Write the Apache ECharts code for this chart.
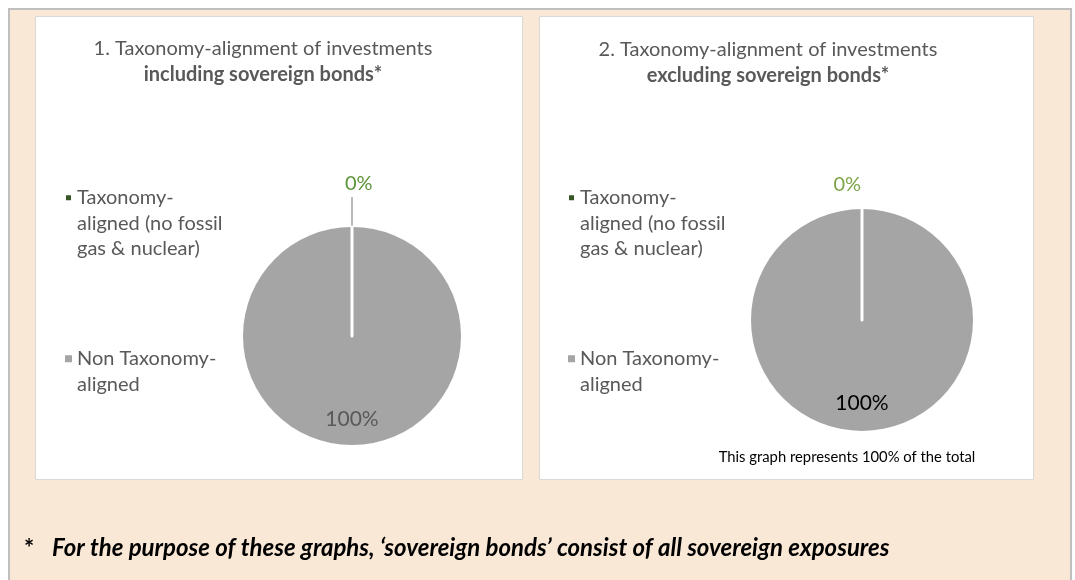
<!DOCTYPE html>
<html>
<head>
<meta charset="utf-8">
<title>Taxonomy-alignment of investments</title>
<script src="https://cdn.jsdelivr.net/npm/echarts@6/dist/echarts.min.js"></script>
<style>
html, body { margin: 0; padding: 0; background: #fff; }
#chart { width: 1075px; height: 580px; }
</style>
</head>
<body>
<div id="chart"></div>
<script>
// categories and values
var categories = ['Taxonomy-aligned (no fossil gas & nuclear)', 'Non Taxonomy-aligned'];
var legendText = ['Taxonomy-\naligned (no fossil\ngas & nuclear)', 'Non Taxonomy-\naligned'];
var inclSovereign = [0, 100];
var exclSovereign = [0, 100];
var colors = ['#375623', '#A5A5A5'];

var title1 = ['1. Taxonomy-alignment of investments', 'including sovereign bonds*'];
var title2 = ['2. Taxonomy-alignment of investments', 'excluding sovereign bonds*'];
var noteText = 'This graph represents 100% of the total';
var footText = 'For the purpose of these graphs, \u2018sovereign bonds\u2019 consist of all sovereign exposures';

var FONT = 'Lato';

var myChart = echarts.init(document.getElementById('chart'));

// big slice first so the white edge of the 0% slice is drawn on top
function pieData(values, zeroLabel, bigLabel, lineLen, showLine){
	var out = [];
	for (var i = values.length - 1; i >= 0; i--) {
		var item = {
			name: categories[i],
			value: values[i],
			itemStyle: { color: colors[i] }
		};
		if (i === 0) {
			item.itemStyle.borderColor = '#fff';
			item.itemStyle.borderWidth = 3;
			item.label = zeroLabel;
			item.labelLine = { show: showLine, length: lineLen, length2: 0,
				lineStyle: { color: '#A6A6A6', width: 1.5 } };
		} else {
			item.label = bigLabel;
			item.labelLine = { show: false };
		}
		out.push(item);
	}
	return out;
}

function legendFor(left){
	return {
		orient: 'vertical',
		left: left,
		top: 134,
		padding: 0,
		itemWidth: 7,
		itemHeight: 7,
		itemGap: 59,
		icon: 'rect',
		selectedMode: false,
		textStyle: { fontFamily: FONT, fontSize: 20, color: '#595959', lineHeight: 25.5 },
		// empty lines above so the marker sits next to the first line
		formatter: function(name){
			var idx = categories.indexOf(name);
			var txt = legendText[idx];
			var n = txt.split('\n').length;
			return new Array(n).join('\n') + txt;
		},
		data: categories
	};
}

option = {
	backgroundColor: '#fff',
	animation: false,
	graphic: [
		{ type: 'rect', z: -10, shape: { x: 9, y: 9, width: 1062, height: 580 },
		  style: { fill: '#FAE8D7', stroke: '#BFBFBF', lineWidth: 2 } },
		{ type: 'rect', z: -9, shape: { x: 35.5, y: 16.5, width: 487, height: 463 },
		  style: { fill: '#fff', stroke: '#D9D9D9', lineWidth: 1 } },
		{ type: 'rect', z: -9, shape: { x: 539.5, y: 16.5, width: 494, height: 463 },
		  style: { fill: '#fff', stroke: '#D9D9D9', lineWidth: 1 } },
		{ type: 'text', x: 263, y: 49, style: { text: title1[0], fontFamily: FONT, fontSize: 20,
			fill: '#595959', align: 'center', verticalAlign: 'middle' } },
		{ type: 'text', x: 263, y: 75, style: { text: title1[1], fontFamily: FONT, fontSize: 20, fontWeight: 'bold',
			fill: '#595959', align: 'center', verticalAlign: 'middle' } },
		{ type: 'text', x: 768, y: 50, style: { text: title2[0], fontFamily: FONT, fontSize: 20,
			fill: '#595959', align: 'center', verticalAlign: 'middle' } },
		{ type: 'text', x: 768, y: 76, style: { text: title2[1], fontFamily: FONT, fontSize: 20, fontWeight: 'bold',
			fill: '#595959', align: 'center', verticalAlign: 'middle' } },
		{ type: 'text', x: 847, y: 457, style: { text: noteText, fontFamily: FONT, fontSize: 14.8,
			fill: '#000', align: 'center', verticalAlign: 'middle' } },
		{ type: 'text', x: 29, y: 549, style: { text: '*', fontFamily: FONT, fontSize: 24, fontWeight: 'bold',
			fill: '#000', align: 'center', verticalAlign: 'middle' } },
		{ type: 'text', x: 52, y: 548, style: { text: footText, fontFamily: FONT, fontSize: 24, fontWeight: 'bold',
			fontStyle: 'italic', fill: '#000', align: 'left', verticalAlign: 'middle' } }
	],
	legend: [ legendFor(64), legendFor(567) ],
	series: [
		{
			type: 'pie',
			center: [352, 336],
			radius: 109,
			startAngle: 90,
			avoidLabelOverlap: false,
			data: pieData(inclSovereign,
				{ position: 'outside', formatter: '{d}%\n', fontFamily: FONT, fontSize: 20, lineHeight: 26,
				  color: '#5B9338', distanceToLabelLine: -7 },
				{ position: 'inside', formatter: '\n{d}%', fontFamily: FONT, fontSize: 21, lineHeight: 51,
				  color: '#595959' },
				30, true)
		},
		{
			type: 'pie',
			center: [862, 320],
			radius: 111,
			startAngle: 90,
			avoidLabelOverlap: false,
			data: pieData(exclSovereign,
				{ position: 'outside', formatter: '{d}%\n', fontFamily: FONT, fontSize: 20, lineHeight: 26,
				  color: '#7BA446', distanceToLabelLine: -28.5 },
				{ position: 'inside', formatter: '\n{d}%', fontFamily: FONT, fontSize: 21, lineHeight: 50,
				  color: '#000' },
				11, false)
		}
	]
};
myChart.setOption(option);
</script>
</body>
</html>
